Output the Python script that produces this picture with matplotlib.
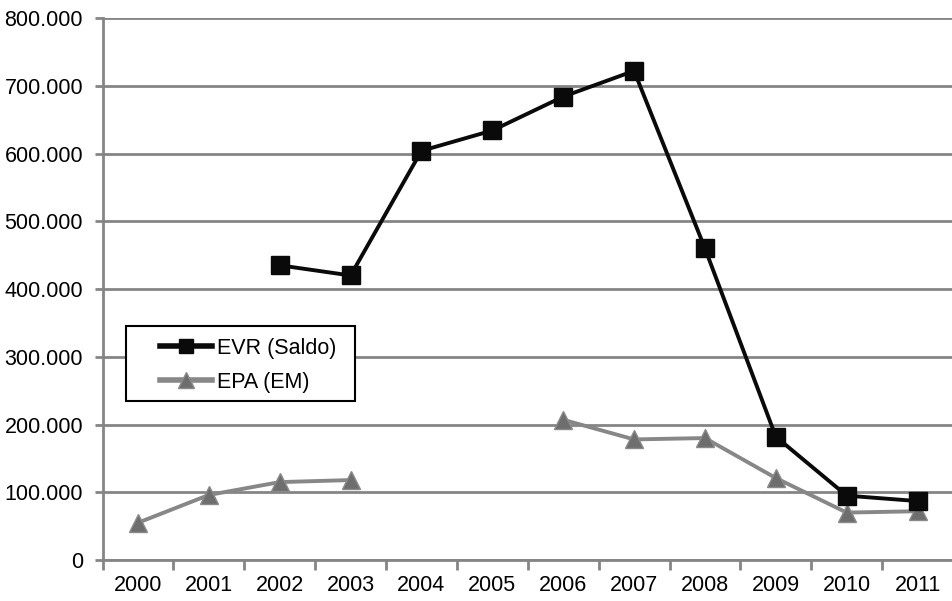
import numpy as np
import matplotlib
matplotlib.use("Agg")
import matplotlib.pyplot as plt
from matplotlib.patches import Rectangle
from matplotlib.ticker import FuncFormatter

years = ["2000", "2001", "2002", "2003", "2004", "2005",
         "2006", "2007", "2008", "2009", "2010", "2011"]
evr = [np.nan, np.nan, 435000, 420000, 604000, 634000,
       684000, 722000, 460000, 182000, 95000, 87000]
epa = [55000, 96000, 115000, 118000, np.nan, np.nan,
       207000, 178000, 180000, 121000, 70000, 72000]

plt.rcParams["font.family"] = ["Liberation Sans", "DejaVu Sans"]

fig = plt.figure(figsize=(9.53, 6.01), dpi=100)
ax = fig.add_axes([0.1076, 0.0682, 0.8924, 0.9018])

x = np.arange(len(years))
grey = "#858585"

ax.plot(x, evr, color="#0a0a0a", lw=2.8, marker="s", markersize=12.5,
        markerfacecolor="#0a0a0a", markeredgecolor="#0a0a0a",
        label="EVR (Saldo)", zorder=4)
ax.plot(x, epa, color="#878787", lw=2.8, marker="^", markersize=13.5,
        markerfacecolor="#6e6e6e", markeredgecolor="#8a8a8a",
        label="EPA (EM)", zorder=3)

ax.set_xlim(-0.5, len(years) - 0.5)
ax.set_ylim(0, 800000)
ax.set_yticks(np.arange(0, 800001, 100000))
ax.yaxis.set_major_formatter(FuncFormatter(
    lambda v, p: "0" if v == 0 else f"{int(v / 1000)}.000"))
ax.grid(axis="y", color=grey, lw=2)
ax.set_axisbelow(True)

ax.set_xticks(x)
ax.set_xticklabels(years)
ax.set_xticks(np.arange(-0.5, len(years), 1), minor=True)
ax.tick_params(axis="x", which="major", length=0, pad=11, labelsize=15.5)
ax.tick_params(axis="x", which="minor", length=7, width=2, color=grey)
ax.tick_params(axis="y", length=6, width=2, color=grey, labelsize=15.5, pad=8)

for side in ["top", "right"]:
    ax.spines[side].set_visible(False)
for side in ["left", "bottom"]:
    ax.spines[side].set_color(grey)
    ax.spines[side].set_linewidth(2)

# legend box drawn separately so the handles can sit further in
ax.add_patch(Rectangle((0.0276, 0.2934), 0.2694, 0.1383,
                       transform=ax.transAxes, facecolor="white",
                       edgecolor="black", lw=1.5, zorder=5))
leg = ax.legend(loc="upper left", bbox_to_anchor=(0.068, 0.410),
                fontsize=15.5, frameon=False, markerscale=0.85,
                handlelength=2.4, borderpad=0, labelspacing=0.6,
                handletextpad=0.25, borderaxespad=0)
leg.set_zorder(6)
for line in leg.get_lines():
    line.set_linewidth(4)

fig.savefig("out.png", dpi=100)
